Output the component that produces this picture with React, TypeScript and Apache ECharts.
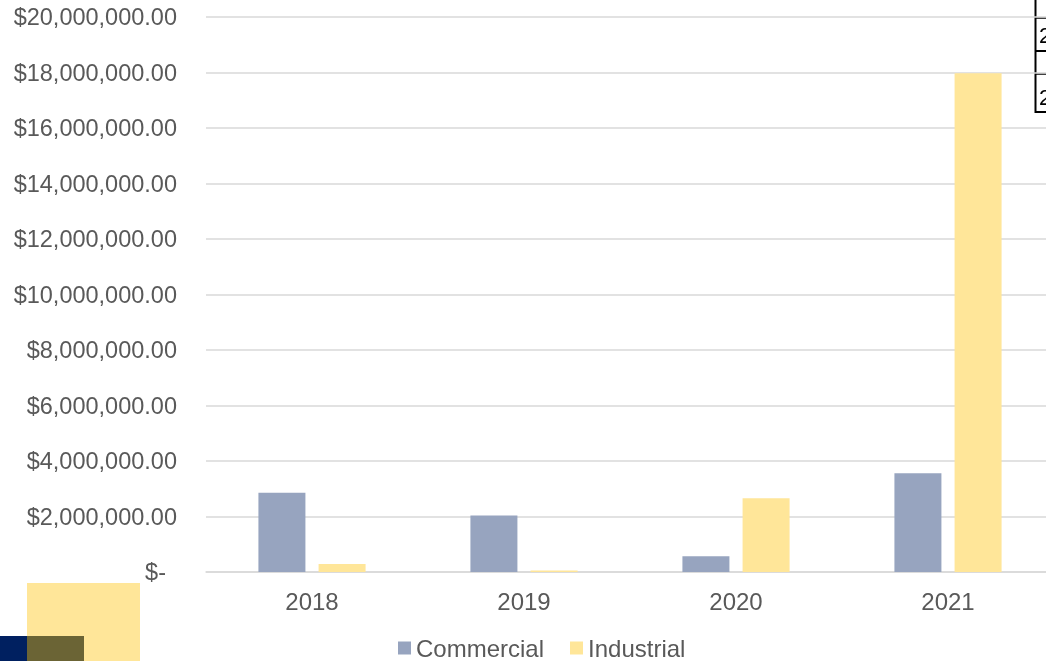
import React, { useEffect, useRef } from "react";
import * as echarts from "echarts";

const categories = ["2018", "2019", "2020", "2021"];
const commercial = [2860000, 2040000, 570000, 3560000];
const industrial = [290000, 50000, 2660000, 17970000];
const yMax = 20000000;
const yInterval = 2000000;

const FONT = "'Liberation Sans', Arial, sans-serif";
const TEXT = "#595959";
const FS = 24;
const FSY = 23.5;

export default function App() {
  const ref = useRef<HTMLDivElement>(null);
  useEffect(() => {
    document.body.style.margin = "0";
    document.body.style.overflow = "hidden";
    const chart = echarts.init(ref.current!, null, { renderer: "svg" });
    chart.setOption({
      animation: false,
      textStyle: { fontFamily: FONT },
      grid: { left: 206, top: 17, width: 848, height: 555, containLabel: false },
      legend: {
        left: 398,
        top: 636,
        padding: 0,
        itemWidth: 13,
        itemHeight: 13,
        itemGap: 26,
        icon: "rect",
        textStyle: { fontSize: FS, color: TEXT, fontFamily: FONT },
        data: ["Commercial", "Industrial"],
      },
      xAxis: {
        type: "category",
        data: categories,
        boundaryGap: true,
        axisLine: { lineStyle: { color: "#D9D9D9", width: 1.5 } },
        axisTick: { show: false },
        axisLabel: { fontSize: FS, color: TEXT, fontFamily: FONT, margin: 17 },
      },
      yAxis: {
        type: "value",
        min: 0,
        max: yMax,
        interval: yInterval,
        axisLine: { show: false },
        axisTick: { show: false },
        splitLine: { lineStyle: { color: "#D9D9D9", width: 1.5 } },
        axisLabel: {
          fontSize: FSY,
          color: TEXT,
          fontFamily: FONT,
          margin: 29,
          formatter: (v: number) =>
            v === 0
              ? "{z|$-}"
              : "$" + v.toLocaleString("en-US", { minimumFractionDigits: 2, maximumFractionDigits: 2 }),
          rich: {
            z: { fontSize: FSY, color: TEXT, fontFamily: FONT, padding: [0, 11, 0, 0] },
          },
        },
      },
      series: [
        {
          name: "Commercial",
          type: "bar",
          data: commercial,
          barWidth: 47,
          barGap: "28%",
          itemStyle: { color: "#97A4BF" },
        },
        {
          name: "Industrial",
          type: "bar",
          data: industrial,
          barWidth: 47,
          itemStyle: { color: "#FFE699" },
        },
      ],
      graphic: [
        { type: "rect", shape: { x: 27, y: 583, width: 113, height: 78 }, style: { fill: "#FFE699" } },
        { type: "rect", shape: { x: 0, y: 636, width: 27, height: 25 }, style: { fill: "#002060" } },
        { type: "rect", shape: { x: 27, y: 636, width: 57, height: 25 }, style: { fill: "#6B6435" } },
        { type: "line", shape: { x1: 1035.5, y1: 0, x2: 1035.5, y2: 113 }, style: { stroke: "#000", lineWidth: 2 } },
        { type: "line", shape: { x1: 1035, y1: 18, x2: 1060, y2: 18 }, style: { stroke: "#000", lineWidth: 1.5 } },
        { type: "line", shape: { x1: 1035, y1: 51, x2: 1060, y2: 51 }, style: { stroke: "#000", lineWidth: 2 } },
        { type: "line", shape: { x1: 1035, y1: 74, x2: 1060, y2: 74 }, style: { stroke: "#000", lineWidth: 1.5 } },
        { type: "line", shape: { x1: 1035, y1: 112, x2: 1060, y2: 112 }, style: { stroke: "#000", lineWidth: 2 } },
        { type: "text", x: 1039, y: 24, style: { text: "2", fontSize: 22, fill: "#000", fontFamily: FONT } },
        { type: "text", x: 1039, y: 86, style: { text: "2", fontSize: 22, fill: "#000", fontFamily: FONT } },
      ],
    });
    return () => chart.dispose();
  }, []);
  return <div ref={ref} style={{ position: "fixed", left: 0, top: 0, width: 1060, height: 661 }} />;
}
